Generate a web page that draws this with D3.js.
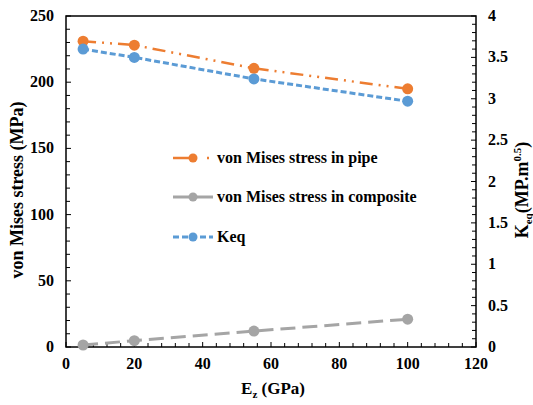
<!DOCTYPE html>
<html>
<head>
<meta charset="utf-8">
<script src="https://cdn.jsdelivr.net/npm/d3@7"></script>
<style>
  body { margin: 0; background: #fff; }
</style>
</head>
<body>
<div id="chart"></div>
<script>
const ez = [5, 20, 55, 100];
const pipeStress = [231, 228, 210.5, 195];
const compositeStress = [1.5, 4.8, 12, 21];
const keq = [3.6, 3.5, 3.24, 2.97];

const xTicks = [0, 20, 40, 60, 80, 100, 120];
const yTicks = [0, 50, 100, 150, 200, 250];
const y2Ticks = [0, 0.5, 1, 1.5, 2, 2.5, 3, 3.5, 4];

const width = 533, height = 405;
const margin = { top: 16, right: 57, bottom: 58, left: 66 };

const svg = d3.select('#chart').append('svg')
  .attr('width', width).attr('height', height)
  .style('font-family', "'Liberation Serif', 'DejaVu Serif', serif")
  .attr('font-weight', 'bold');

const x = d3.scaleLinear().domain([0, 120]).range([margin.left, width - margin.right]);
const y = d3.scaleLinear().domain([0, 250]).range([height - margin.bottom, margin.top]);
const y2 = d3.scaleLinear().domain([0, 4]).range([height - margin.bottom, margin.top]);

// minor ticks (inside)
const tickG = svg.append('g').attr('stroke', '#000').attr('stroke-width', 1);
d3.range(0, 121, 4).forEach(v => {
  tickG.append('line').attr('x1', x(v)).attr('x2', x(v))
    .attr('y1', y(0)).attr('y2', y(0) - (v % 20 === 0 ? 5 : 4));
});
d3.range(0, 251, 10).forEach(v => {
  tickG.append('line').attr('x1', x(0)).attr('x2', x(0) + (v % 50 === 0 ? 5 : 4))
    .attr('y1', y(v)).attr('y2', y(v));
});
d3.range(0, 41).map(i => i / 10).forEach((v, i) => {
  tickG.append('line').attr('x1', x(120)).attr('x2', x(120) - (i % 5 === 0 ? 5 : 4))
    .attr('y1', y2(v)).attr('y2', y2(v));
});

// frame
svg.append('rect')
  .attr('x', x(0)).attr('y', y(250))
  .attr('width', x(120) - x(0)).attr('height', y(0) - y(250))
  .attr('fill', 'none').attr('stroke', '#000').attr('stroke-width', 1.5);

// tick labels
svg.append('g').selectAll('text').data(xTicks).join('text')
  .attr('x', d => x(d)).attr('y', 369)
  .attr('text-anchor', 'middle').attr('font-size', 16).text(d => d);
svg.append('g').selectAll('text').data(yTicks).join('text')
  .attr('x', 54).attr('y', d => y(d) + 5)
  .attr('text-anchor', 'end').attr('font-size', 16).text(d => d);
svg.append('g').selectAll('text').data(y2Ticks).join('text')
  .attr('x', 488).attr('y', d => y2(d) + 5)
  .attr('text-anchor', 'start').attr('font-size', 16).text(d => d);

// axis titles
const xt = svg.append('text').attr('x', 273).attr('y', 394)
  .attr('text-anchor', 'middle').attr('font-size', 17);
xt.append('tspan').text('E');
xt.append('tspan').attr('font-size', 11).attr('dy', 4).text('z');
xt.append('tspan').attr('dy', -4).text(' (GPa)');

svg.append('text')
  .attr('transform', 'translate(23,190) rotate(-90)')
  .attr('text-anchor', 'middle').attr('font-size', 18)
  .text('von Mises stress (MPa)');

const rt = svg.append('text')
  .attr('transform', 'translate(528,190) rotate(-90)')
  .attr('text-anchor', 'middle').attr('font-size', 18);
rt.append('tspan').text('K');
rt.append('tspan').attr('font-size', 11).attr('dy', 4).text('eq');
rt.append('tspan').attr('dy', -4).text('(MP.m');
rt.append('tspan').attr('font-size', 11).attr('dy', -7).text('0.5');
rt.append('tspan').attr('dy', 7).text(')');

// series
const series = [
  { name: 'von Mises stress in pipe', values: pipeStress, scale: y, color: '#ED7D31', dash: '13,6,2,6,2,6', width: 2.5 },
  { name: 'von Mises stress in composite', values: compositeStress, scale: y, color: '#A5A5A5', dash: '15,7', width: 3 },
  { name: 'Keq', values: keq, scale: y2, color: '#5B9BD5', dash: '6,3', width: 3 }
];

series.forEach(s => {
  const pts = ez.map((e, i) => [e, s.values[i]]);
  svg.append('path').datum(pts)
    .attr('fill', 'none').attr('stroke', s.color)
    .attr('stroke-width', s.width).attr('stroke-dasharray', s.dash)
    .attr('d', d3.line().x(d => x(d[0])).y(d => s.scale(d[1])));
  svg.append('g').selectAll('circle').data(pts).join('circle')
    .attr('cx', d => x(d[0])).attr('cy', d => s.scale(d[1]))
    .attr('r', 5.5).attr('fill', s.color);
});

// legend
const legendY = [158, 197, 237];
series.forEach((s, i) => {
  const g = svg.append('g').attr('transform', `translate(173,${legendY[i]})`);
  g.append('line').attr('x1', 0).attr('x2', 40).attr('y1', 0).attr('y2', 0)
    .attr('stroke', s.color).attr('stroke-width', s.width)
    .attr('stroke-dasharray', i === 0 ? '20,14,2,20' : (i === 2 ? '6,3' : null));
  g.append('circle').attr('cx', 20).attr('cy', 0).attr('r', 4.5).attr('fill', s.color);
  g.append('text').attr('x', 44).attr('y', 5).attr('font-size', 16).text(s.name);
});
</script>
</body>
</html>
